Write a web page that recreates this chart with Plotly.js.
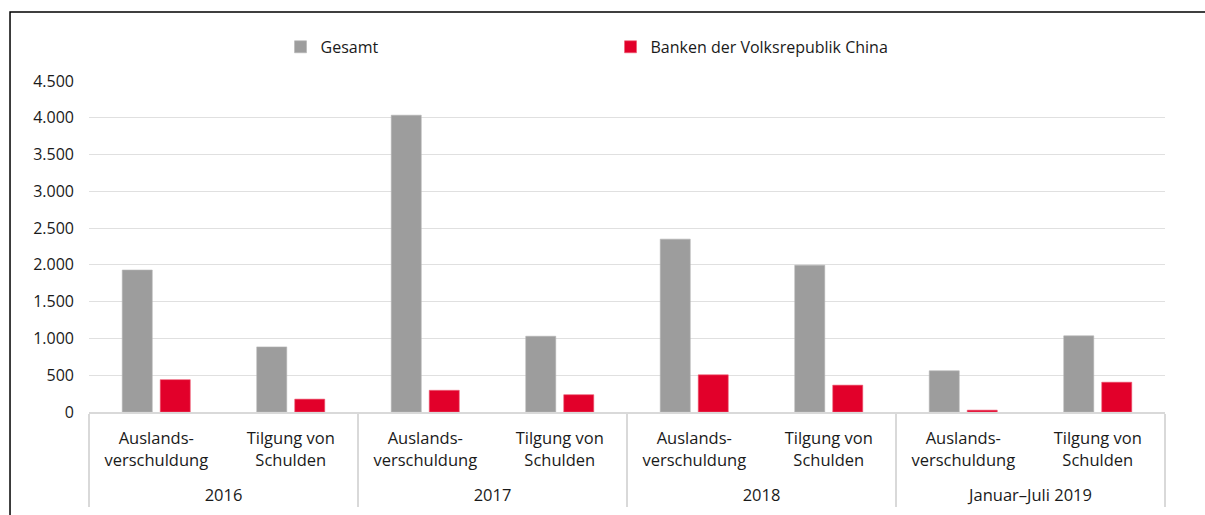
<!DOCTYPE html>
<html>
<head>
<meta charset="utf-8">
<script src="https://cdn.plot.ly/plotly-3.0.1.min.js"></script>
<style>html,body{margin:0;padding:0;background:#fff;}#chart{width:1205px;height:515px;}</style>
</head>
<body>
<div id="chart"></div>
<script>
// Data
const periods = ["2016", "2017", "2018", "Januar–Juli 2019"];
const measures = ["Auslands-<br>verschuldung<br>\u00a0", "Tilgung von<br>Schulden<br>\u00a0"];
const gesamt = [1930, 885, 4035, 1030, 2350, 1995, 560, 1035];
const bankenChina = [440, 175, 295, 235, 505, 365, 25, 405];
const seriesNames = ["Gesamt", "Banken der Volksrepublik China"];

const xOuter = [];
const xInner = [];
periods.forEach(p => measures.forEach(m => { xOuter.push(p); xInner.push(m); }));

const fontFam = "Open Sans, sans-serif";
const textColor = "#1a1a1a";

const traces = [
  {
    type: "bar", name: seriesNames[0], x: [xOuter, xInner], y: gesamt,
    marker: {color: "#9d9d9d", line: {color: "#b5b5b5", width: 0.6}},
    hoverinfo: "y+name"
  },
  {
    type: "bar", name: seriesNames[1], x: [xOuter, xInner], y: bankenChina,
    marker: {color: "#e2002a", line: {color: "#ec5a72", width: 0.6}},
    hoverinfo: "y+name"
  }
];

const layout = {
  width: 1205, height: 515,
  margin: {l: 89, r: 40, t: 81, b: 103, pad: 0},
  paper_bgcolor: "#ffffff", plot_bgcolor: "#ffffff",
  separators: ",.",
  font: {family: fontFam, color: textColor, size: 16},
  barmode: "group",
  bargap: 0.435,
  bargroupgap: 0.21,
  showlegend: true,
  legend: {
    orientation: "h", x: 0.178, xanchor: "left", y: 1.103, yanchor: "middle",
    entrywidth: 285, entrywidthmode: "pixels",
    font: {family: fontFam, size: 16, color: textColor},
    itemwidth: 30, bgcolor: "rgba(0,0,0,0)"
  },
  xaxis: {
    type: "multicategory",
    showline: true, linecolor: "#d9d9d9", linewidth: 1.5,
    showgrid: false, ticks: "",
    ticklabelstandoff: 11,
    showdividers: true, dividercolor: "#d9d9d9", dividerwidth: 1.5,
    tickfont: {family: fontFam, size: 16.5, color: textColor}
  },
  yaxis: {
    range: [0, 4500], dtick: 500, tick0: 0,
    tickformat: ",d",
    showgrid: true, gridcolor: "#e0e0e0", gridwidth: 1.2,
    zeroline: false, showline: false, ticks: "",
    ticklabelstandoff: 14,
    tickfont: {family: fontFam, size: 16, color: textColor}
  },
  shapes: [
    {type: "rect", xref: "paper", yref: "paper",
     x0: -0.0734, x1: 1.2, y0: -0.5, y1: 1.2085,
     line: {color: "#000000", width: 1.5}, fillcolor: "rgba(0,0,0,0)", layer: "below"}
  ]
};

Plotly.newPlot("chart", traces, layout, {displayModeBar: false, staticPlot: true});
</script>
</body>
</html>
